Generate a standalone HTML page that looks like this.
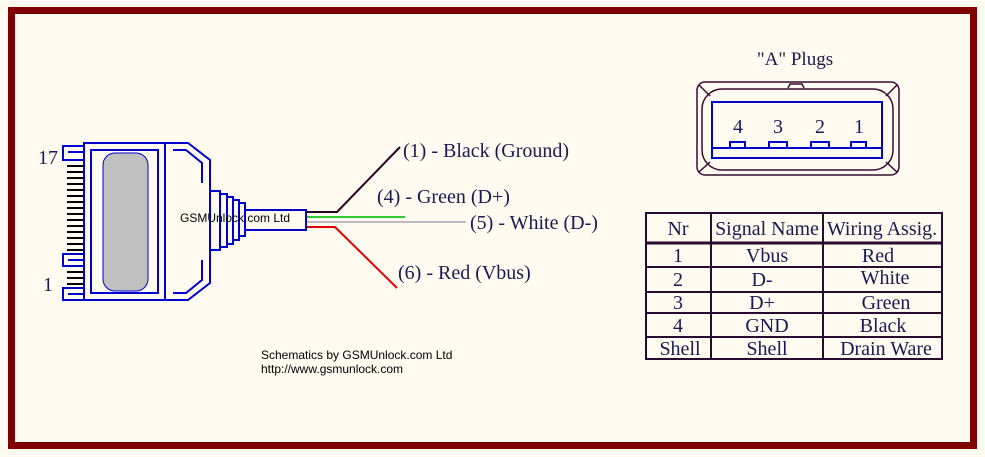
<!DOCTYPE html>
<html><head><meta charset="utf-8"><style>
body{margin:0;background:#fffbf0;}
svg{display:block}
.t{font-family:"Liberation Serif",serif;font-size:20px;fill:#1a1a50}
.s{font-family:"Liberation Sans",sans-serif;font-size:12px;fill:#000}
</style></head><body>
<svg width="985" height="457" viewBox="0 0 985 457">
<rect x="0" y="0" width="985" height="457" fill="#fffbf0"/>
<rect x="11.5" y="10.5" width="962" height="435" fill="none" stroke="#800000" stroke-width="7"/>

<!-- connector -->
<g fill="none" stroke="#0000cc" stroke-width="2">
<rect x="84" y="143" width="81" height="157"/>
<rect x="91" y="150" width="67" height="143"/>
<path d="M165 143 L188 143 L210 160 L210 283 L188 300 L165 300"/>
<path d="M173 150 L186 150 L202 163 L202 183 M202 260 L202 280 L186 293 L173 293"/>
<path d="M84 146 L63 146 L63 160 L84 160 M68 152 L84 152"/>
<path d="M84 254 L63 254 L63 266 L84 266 M68 260 L84 260"/>
<path d="M84 288 L63 288 L63 300 L84 300 M68 294 L84 294"/>
<path d="M210 191 L220 191 L220 250 L210 250"/>
<path d="M220 194 L227 194 L227 247 L220 247"/>
<path d="M227 197 L233 197 L233 244 L227 244"/>
<path d="M233 200 L239 200 L239 240 L233 240"/>
<path d="M239 203 L245 203 L245 236 L239 236"/>
<rect x="245" y="210" width="61" height="20"/>
</g>
<rect x="103" y="153" width="45" height="138" rx="12" fill="#c0c0c0" stroke="#0000cc" stroke-width="1"/>
<g stroke="#000" stroke-width="2">
<path d="M67 166h16M67 172h16M67 178h16M67 184h16M67 190h16M67 196h16M67 202h16M67 208h16M67 214h16M67 220h16M67 226h16M67 232h16M67 238h16M67 244h16M67 250h16M67 272h16M67 278h16M67 284h16"/>
</g>
<text x="180" y="222" class="s">GSMUnlock.com Ltd</text>
<text x="38" y="164" class="t">17</text>
<text x="43" y="291" class="t">1</text>

<!-- wires -->
<g fill="none" stroke-width="2">
<path d="M307 212 L337 212 L400 147" stroke="#2a0020"/>
<path d="M307 217 L405 217" stroke="#33cc33"/>
<path d="M307 222 L466 222" stroke="#bbbbbb"/>
<path d="M307 227 L335 227 L397 288" stroke="#dd0000"/>
</g>
<text x="403" y="157" class="t">(1) - Black (Ground)</text>
<text x="377" y="203" class="t">(4) - Green (D+)</text>
<text x="470" y="229" class="t">(5) - White (D-)</text>
<text x="398" y="279" class="t">(6) - Red (Vbus)</text>

<!-- USB plug -->
<text x="795" y="65" class="t" text-anchor="middle" style="font-size:19px">"A" Plugs</text>
<g fill="none" stroke="#3a0a30" stroke-width="1.5">
<rect x="697" y="82" width="202" height="93" rx="8"/>
<rect x="702" y="89" width="191" height="81" rx="20"/>
<path d="M788 88 L790 84 L802 84 L804 88"/>
<path d="M699 85 L710 96 M897 85 L886 96 M699 172 L710 162 M897 172 L886 162"/>
</g>
<g fill="none" stroke="#0000cc" stroke-width="2">
<rect x="712" y="102" width="170" height="56"/>
<path d="M712 148 H882"/>
<rect x="730" y="142" width="15" height="6"/>
<rect x="769" y="142" width="18" height="6"/>
<rect x="811" y="142" width="18" height="6"/>
<rect x="851" y="142" width="15" height="6"/>
</g>
<text x="738" y="133" class="t" text-anchor="middle">4</text>
<text x="778" y="133" class="t" text-anchor="middle">3</text>
<text x="820" y="133" class="t" text-anchor="middle">2</text>
<text x="859" y="133" class="t" text-anchor="middle">1</text>

<!-- table -->
<g fill="none" stroke="#2a0a30" stroke-width="2">
<rect x="646" y="213" width="296" height="146"/>
<path d="M711 213V359M823 213V359M646 267H942M646 292H942M646 313H942M646 337H942"/>
<path d="M646 243H942" stroke-width="3"/>
</g>
<g class="t" text-anchor="middle">
<text x="678" y="235">Nr</text><text x="767" y="235">Signal Name</text><text x="882" y="235">Wiring Assig.</text>
<text x="678" y="262">1</text><text x="767" y="262">Vbus</text><text x="878" y="262">Red</text>
<text x="678" y="286">2</text><text x="762" y="286">D-</text><text x="885" y="284">White</text>
<text x="678" y="309">3</text><text x="762" y="309">D+</text><text x="886" y="309">Green</text>
<text x="678" y="332">4</text><text x="767" y="332">GND</text><text x="883" y="332">Black</text>
<text x="680" y="355">Shell</text><text x="767" y="355">Shell</text><text x="886" y="355">Drain Ware</text>
</g>

<text x="261" y="359" class="s">Schematics by GSMUnlock.com Ltd</text>
<text x="261" y="373" class="s">http://www.gsmunlock.com</text>
</svg>
</body></html>
